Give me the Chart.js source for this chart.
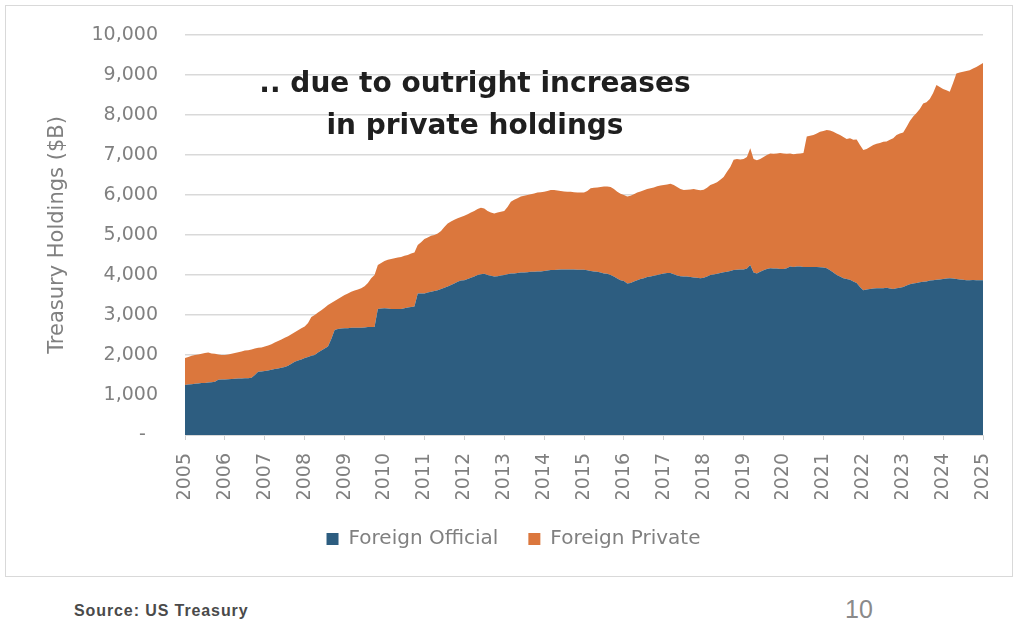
<!DOCTYPE html>
<html>
<head>
<meta charset="utf-8">
<title>Foreign Treasury Holdings</title>
<script src="https://cdn.jsdelivr.net/npm/chart.js@4.4.1/dist/chart.umd.min.js"></script>
<style>
  html, body { margin: 0; padding: 0; background: #fff; }
  body { width: 1024px; height: 628px; position: relative; overflow: hidden; font-family: "DejaVu Sans", sans-serif; }
  #box { position: absolute; left: 5px; top: 5px; width: 1006px; height: 570px; border: 1px solid #d9d9d9; }
  #chart { display: block; }
  #headline { position: absolute; left: 175px; top: 62px; width: 600px; text-align: center;
    font: bold 28px/42px "DejaVu Sans", sans-serif; color: #1f1f1f; }
  #source { position: absolute; left: 74px; top: 603px; font: bold 16px/1 "Liberation Sans", sans-serif;
    letter-spacing: 0.9px; color: #4a4a4a; }
  #page { position: absolute; left: 845px; top: 597px; font: 25px/1 "Liberation Sans", sans-serif; color: #8a8a8a; }
</style>
</head>
<body>
<div id="box"><canvas id="chart" width="1006" height="570"></canvas></div>
<div id="headline">.. due to outright increases<br>in private holdings</div>
<div id="source">Source: US Treasury</div>
<div id="page">10</div>
<script>
// monthly, Jan 2005 .. Jan 2025, $B
const years = ['2005', '2006', '2007', '2008', '2009', '2010', '2011', '2012', '2013', '2014',
  '2015', '2016', '2017', '2018', '2019', '2020', '2021', '2022', '2023', '2024', '2025'];

const foreignOfficial = [
  1250, 1260, 1270, 1280, 1290, 1300, 1300, 1310, 1320, 1330, 1380, 1385,
  1390, 1395, 1400, 1405, 1410, 1415, 1420, 1420, 1430, 1500, 1580, 1590,
  1600, 1610, 1630, 1650, 1660, 1680, 1700, 1730, 1780, 1830, 1860, 1890,
  1925, 1950, 1980, 2000, 2060, 2110, 2160, 2210, 2400, 2625, 2650, 2660,
  2670, 2670, 2680, 2680, 2680, 2680, 2690, 2700, 2700, 2700, 3150, 3160,
  3170, 3160, 3150, 3150, 3150, 3150, 3170, 3190, 3200, 3210, 3540, 3540,
  3540, 3560, 3580, 3600, 3620, 3650, 3680, 3710, 3750, 3790, 3830, 3860,
  3870, 3900, 3930, 3960, 4000, 4020, 4030, 4000, 3980, 3960, 3970, 3990,
  4000, 4020, 4040, 4040, 4050, 4060, 4060, 4070, 4080, 4080, 4090, 4090,
  4100, 4110, 4125, 4125, 4130, 4140, 4140, 4140, 4140, 4135, 4130, 4130,
  4130, 4120, 4100, 4090, 4080, 4060, 4040, 4030, 4000, 3960, 3910, 3870,
  3850, 3790, 3800, 3840, 3870, 3900, 3920, 3950, 3960, 3980, 4000, 4020,
  4040, 4050, 4050, 4020, 3990, 3970, 3960, 3960, 3950, 3940, 3930, 3920,
  3930, 3960, 4000, 4010, 4030, 4050, 4070, 4080, 4100, 4125, 4130, 4140,
  4140, 4160, 4250, 4060, 4040, 4080, 4120, 4150, 4170, 4160, 4160, 4150,
  4150, 4170, 4210, 4200, 4210, 4210, 4200, 4200, 4200, 4200, 4200, 4195,
  4190, 4170, 4120, 4060, 4000, 3960, 3920, 3900, 3880, 3840, 3800, 3700,
  3620, 3640, 3650, 3660, 3670, 3670, 3670, 3680, 3660, 3650, 3670, 3680,
  3700, 3740, 3770, 3790, 3800, 3820, 3830, 3840, 3860, 3870, 3880, 3890,
  3900, 3910, 3920, 3910, 3900, 3890, 3880, 3870, 3870, 3875, 3870, 3870,
  3870
];

const foreignPrivate = [
  675, 690, 710, 720, 720, 730, 750, 750, 720, 700, 630, 615,
  610, 615, 630, 645, 660, 675, 690, 700, 710, 660, 600, 600,
  610, 630, 640, 660, 690, 710, 730, 740, 740, 740, 760, 780,
  785, 850, 970, 1000, 1000, 1010, 1020, 1040, 900, 725, 750, 790,
  830, 870, 900, 930, 960, 990, 1030, 1100, 1220, 1300, 1100, 1140,
  1180, 1220, 1250, 1270, 1290, 1300, 1310, 1310, 1340, 1350, 1210, 1280,
  1360, 1380, 1400, 1400, 1420, 1450, 1520, 1580, 1590, 1590, 1590, 1590,
  1610, 1620, 1630, 1640, 1650, 1660, 1630, 1600, 1580, 1580, 1590, 1590,
  1600, 1680, 1790, 1840, 1870, 1900, 1920, 1930, 1940, 1960, 1970, 1980,
  1980, 1990, 2000, 2000, 1980, 1960, 1950, 1940, 1940, 1935, 1930, 1930,
  1930, 1980, 2070, 2090, 2110, 2140, 2170, 2180, 2200, 2190, 2170, 2160,
  2150, 2170, 2180, 2180, 2190, 2190, 2200, 2200, 2210, 2210, 2220, 2220,
  2210, 2210, 2230, 2230, 2210, 2180, 2165, 2170, 2190, 2210, 2200, 2200,
  2200, 2220, 2250, 2270, 2290, 2330, 2380, 2500, 2600, 2755, 2770, 2750,
  2760, 2790, 2920, 2840, 2830, 2820, 2830, 2850, 2870, 2870, 2880, 2900,
  2890, 2860, 2830, 2820, 2820, 2830, 2850, 3260, 3280, 3300, 3340, 3385,
  3410, 3455, 3490, 3520, 3540, 3540, 3530, 3500, 3540, 3540, 3590, 3550,
  3505, 3510, 3550, 3590, 3610, 3630, 3660, 3660, 3720, 3770, 3830, 3860,
  3860, 3960, 4080, 4170, 4250, 4330, 4460, 4480, 4540, 4680, 4870, 4810,
  4750, 4710, 4660, 4890, 5140, 5170, 5200, 5230, 5250, 5285, 5330, 5380,
  5430
];

const monthLabels = [];
years.forEach(function (y, i) {
  const n = i === years.length - 1 ? 1 : 12;
  for (let m = 1; m <= n; m++) {
    monthLabels.push(y + '-' + (m < 10 ? '0' + m : m));
  }
});

const grey = '#808080';
const tickFont = { family: 'DejaVu Sans', size: 19 };

// legend centring counts the trailing item padding, nudge it back
const legendNudge = {
  id: 'legendNudge',
  afterLayout: function (chart) {
    chart.legend.left += 19;
    chart.legend.right += 19;
  }
};

new Chart(document.getElementById('chart'), {
  type: 'line',
  data: {
    labels: monthLabels,
    datasets: [
      {
        label: 'Foreign Official',
        data: foreignOfficial,
        backgroundColor: '#2d5d80',
        borderWidth: 0,
        pointRadius: 0,
        fill: 'origin'
      },
      {
        label: 'Foreign Private',
        data: foreignPrivate,
        backgroundColor: '#db773d',
        borderWidth: 0,
        pointRadius: 0,
        fill: '-1'
      }
    ]
  },
  plugins: [legendNudge],
  options: {
    responsive: false,
    animation: false,
    events: [],
    layout: { padding: { top: 29, right: 29, bottom: 17, left: 0 } },
    scales: {
      x: {
        grid: { drawOnChartArea: false, drawTicks: true, tickLength: 5, color: '#d0d0d0' },
        border: { color: '#d9d9d9' },
        afterBuildTicks: function (axis) {
          axis.ticks = axis.ticks.filter(function (t) { return t.value % 12 === 0; });
        },
        afterFit: function (axis) {
          axis.height = 64;
          axis.paddingLeft = 0;
          axis.paddingRight = 0;
        },
        ticks: {
          autoSkip: false,
          minRotation: 90,
          maxRotation: 90,
          padding: 13,
          color: grey,
          font: tickFont,
          callback: function (value) { return monthLabels[value].slice(0, 4); }
        }
      },
      y: {
        stacked: true,
        min: 0,
        max: 10000,
        afterFit: function (axis) {
          axis.width = 179;
          axis.paddingTop = 0;
          axis.paddingBottom = 0;
        },
        grid: { drawTicks: false, color: '#d9d9d9', lineWidth: 1.5 },
        border: { display: false },
        ticks: {
          stepSize: 1000,
          padding: 27,
          color: grey,
          font: tickFont,
          callback: function (v) { return v === 0 ? '-  ' : v.toLocaleString('en-US'); }
        },
        title: {
          display: true,
          text: 'Treasury Holdings ($B)',
          color: grey,
          font: { family: 'DejaVu Sans', size: 21 },
          padding: { top: 39, bottom: 0 }
        }
      }
    },
    plugins: {
      legend: {
        position: 'bottom',
        labels: {
          boxWidth: 12,
          boxHeight: 12,
          padding: 30,
          color: grey,
          font: { family: 'DejaVu Sans', size: 20 }
        }
      },
      tooltip: { enabled: false }
    }
  }
});
</script>
</body>
</html>
